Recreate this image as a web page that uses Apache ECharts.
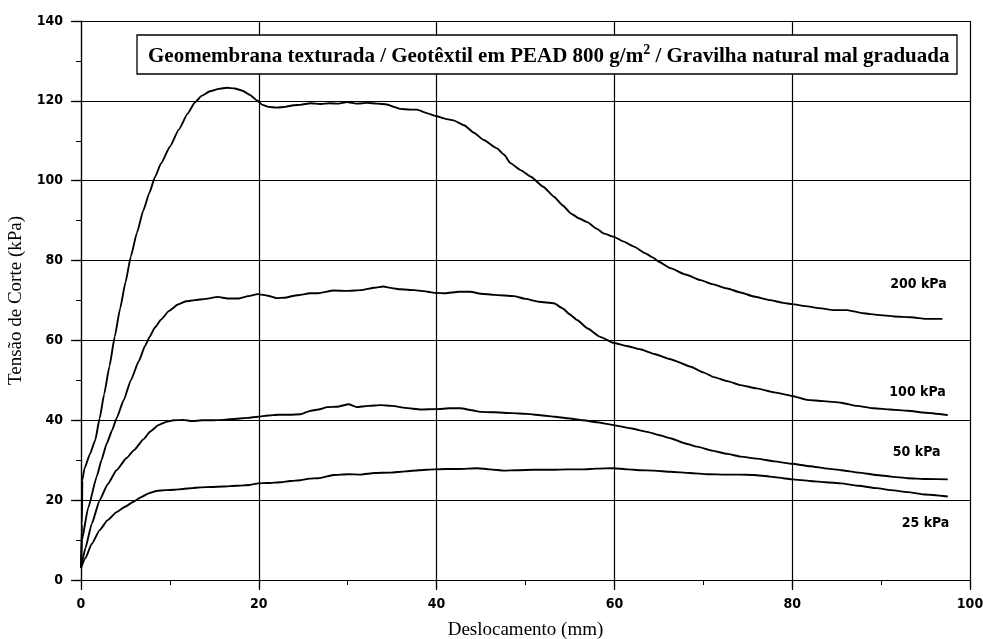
<!DOCTYPE html>
<html>
<head>
<meta charset="utf-8">
<title>Tensão de Corte vs Deslocamento</title>
<script src="https://cdn.jsdelivr.net/npm/echarts@6/dist/echarts.min.js"></script>
<style>
  html, body { margin: 0; padding: 0; background: #fff; }
  #chart { width: 983px; height: 639px; }
</style>
</head>
<body>
<div id="chart"></div>
<script>
// Shear stress (kPa) vs. displacement (mm), one curve per normal stress.
const curve200 = [[0,3],[0.1,14],[0.15,25],[0.4,28],[1.0,31.5],[1.6,35],[2.1,40.5],[2.6,46.5],[3.2,53.5],[3.8,61],[4.4,68],[5.0,74.5],[5.6,81],[6.3,87],[7.0,92.5],[7.7,97],[8.3,100.8],[9.0,104.3],[10,108.5],[11,112.8],[12,116.8],[12.8,119.6],[13.6,121.3],[14.5,122.4],[15.5,123],[16.4,123.3],[17.3,123.1],[18.1,122.6],[19,121.5],[19.8,120.1],[20.4,119],[21.1,118.5],[22,118.3],[23,118.5],[23.9,118.9],[24.7,119],[25.8,119.4],[27,119.2],[28,119.4],[29,119.3],[29.9,119.7],[31,119.3],[32.2,119.5],[33.3,119.3],[34.4,119.1],[35.2,118.5],[35.9,118.0],[37,117.8],[37.8,117.8],[38.8,117],[39.9,116.2],[41,115.5],[41.9,115.1],[43.1,113.9],[44.2,112],[45.3,110.2],[46.8,108.1],[47.6,106.5],[48.3,104.4],[49.5,102.6],[50.6,101],[52,98.5],[53.2,96],[54.2,93.8],[55.1,91.8],[56,90.6],[56.9,89.7],[58,88],[58.8,86.8],[59.9,86],[61,84.8],[62.2,83.5],[63.5,81.8],[64.3,80.8],[65,79.7],[66.3,78.1],[68,76.5],[69.7,75.1],[71,74.1],[72.7,73],[74.2,72],[75.7,71],[77.5,70.1],[79,69.4],[80,69.1],[81.5,68.6],[83,68.1],[84.7,67.6],[86.2,67.6],[88,66.8],[89.6,66.4],[91.5,66],[93.4,65.8],[95,65.4],[96.9,65.4]];

const curve100 = [[0,3],[0.1,10],[0.8,18],[1.77,25.9],[2.3,30],[2.9,34.2],[3.5,37.5],[4.0,40.5],[4.8,45],[5.6,50],[6.5,54.8],[7.2,58.6],[7.7,60.8],[8.3,63.2],[9.0,65.2],[9.9,67.4],[10.9,69.0],[11.8,69.8],[12.8,70.1],[14,70.4],[15.4,70.9],[16.5,70.5],[17.7,70.5],[18.8,71.1],[19.9,71.6],[21,71.2],[22,70.6],[22.9,70.7],[24,71.2],[24.7,71.4],[25.7,71.8],[26.7,71.8],[28.4,72.5],[30,72.4],[31.5,72.6],[33,73.2],[34,73.5],[35,73.1],[35.9,72.8],[37.5,72.6],[39,72.2],[39.9,71.9],[41,71.8],[42.5,72.2],[43.8,72.2],[45,71.7],[46.5,71.4],[48.7,71.1],[50,70.4],[51.5,69.7],[53.2,69.3],[54.2,68],[55,66.5],[55.8,65.1],[57,63],[58.4,60.9],[59.9,59.4],[61.4,58.6],[62.9,57.8],[64.5,56.6],[66.3,55.3],[68.6,53.4],[70,52],[71.2,50.8],[72.7,49.8],[74.2,48.8],[76,48],[78,47],[80,46.1],[81.7,45.1],[83.5,44.8],[85.5,44.4],[87.3,43.6],[89.2,43],[91,42.7],[93,42.4],[95,41.9],[97.5,41.3]];

const curve50 = [[0,3],[0.5,8],[1.2,14],[2.1,20],[3.0,24],[4.0,27.5],[5.1,30.5],[6.0,32.6],[7,35.2],[7.8,37.2],[8.7,38.8],[9.6,39.6],[10.4,40],[11.5,40.1],[12.5,39.8],[13.6,40.0],[14.7,40],[16,40.1],[17.5,40.4],[18.8,40.6],[19.9,40.9],[21,41.2],[22.2,41.4],[23.5,41.4],[24.7,41.5],[25.7,42.3],[26.7,42.7],[27.7,43.3],[28.8,43.4],[30.1,44],[31,43.3],[32.3,43.6],[33.7,43.8],[35,43.6],[36.5,43.1],[38.2,42.7],[40,42.8],[41.5,43],[42.7,43],[44,42.5],[44.9,42.1],[46.5,42],[48.5,41.8],[50.2,41.6],[52,41.2],[53.3,40.9],[54.7,40.5],[56.5,40],[58,39.5],[59.9,38.8],[61.8,38],[63.7,37.1],[65,36.3],[66.3,35.5],[68,34.2],[69.3,33.4],[71,32.4],[72.7,31.6],[74.2,30.9],[76,30.4],[78,29.7],[80,29.1],[82,28.5],[84,27.9],[85.5,27.5],[87.5,26.9],[89.5,26.3],[91.1,25.9],[93,25.5],[95,25.3],[97.5,25.2]];

const curve25 = [[0,3],[0.5,5.5],[1.2,9],[2.1,12.5],[3,15],[4,17],[5,18.4],[5.9,19.6],[6.8,20.8],[7.6,21.7],[8.5,22.3],[9.5,22.5],[10.5,22.6],[11.5,22.8],[12.5,23],[13.4,23.2],[14.7,23.3],[16,23.4],[17.5,23.6],[19,23.8],[19.9,24.2],[21,24.3],[22.5,24.5],[23.5,24.8],[24.7,25],[25.7,25.4],[26.7,25.5],[28.4,26.3],[30,26.5],[31.5,26.4],[33,26.8],[34.8,26.9],[36.5,27.2],[38,27.5],[39.7,27.7],[41,27.8],[42.5,27.8],[44.6,28],[46,27.7],[47.6,27.4],[49,27.5],[51,27.6],[53,27.6],[54.7,27.7],[56.5,27.7],[58,27.9],[59.9,28],[61.5,27.7],[62.9,27.5],[64.5,27.4],[66.3,27.1],[68.5,26.8],[70.5,26.5],[72.5,26.4],[74,26.4],[75.7,26.3],[77.5,25.9],[79,25.5],[80,25.2],[82,24.8],[83.8,24.5],[85.5,24.2],[87.5,23.6],[89.5,23],[91.1,22.5],[93,22],[95,21.4],[97.5,20.9]];

const seriesNames = ['200 kPa', '100 kPa', '50 kPa', '25 kPa'];
const xTicks = [0, 20, 40, 60, 80, 100];
const yTicks = [0, 20, 40, 60, 80, 100, 120, 140];
const titleParts = ['Geomembrana texturada / Geotêxtil em PEAD 800 g/m', '2', ' / Gravilha natural mal graduada'];
const xName = 'Deslocamento (mm)';
const yName = 'Tensão de Corte (kPa)';

const chart = echarts.init(document.getElementById('chart'), null, { renderer: 'canvas' });

const tickFont = '"DejaVu Sans Condensed", "DejaVu Sans", sans-serif';
const serifFont = '"Liberation Serif", "Times New Roman", serif';
const ink = '#000';

// Curve label anchors, in data units (displacement, stress)
const labelAnchors = [[94.2, 74.1], [94.1, 46.9], [94.0, 31.9], [95.0, 14.1]];

const curves = [curve200, curve100, curve50, curve25];

const series = curves.map((data, i) => ({
  name: seriesNames[i],
  type: 'line',
  data: data,
  showSymbol: false,
  symbol: 'none',
  smooth: 0.15,
  smoothMonotone: 'x',
  lineStyle: { color: ink, width: 1.9 },
  z: 5,
  markPoint: {
    symbol: 'circle',
    symbolSize: 0,
    silent: true,
    data: [{ coord: labelAnchors[i] }],
    label: {
      show: true,
      position: 'inside',
      formatter: seriesNames[i],
      color: ink,
      fontFamily: tickFont,
      fontWeight: 'bold',
      fontSize: 14
    }
  }
}));

const axisCommon = {
  type: 'value',
  axisLine: { show: true, lineStyle: { color: ink, width: 1.2 } },
  axisTick: { show: true, length: 10, lineStyle: { color: ink, width: 1.2 } },
  minorTick: { show: true, splitNumber: 2, length: 5, lineStyle: { color: ink, width: 1 } },
  splitLine: { show: true, lineStyle: { color: ink, width: 1.2 } }
};

const option = {
  backgroundColor: '#fff',
  animation: false,
  grid: { left: 81, right: 13, top: 21, bottom: 59, containLabel: false, outerBoundsMode: 'none' },
  xAxis: [
    Object.assign({}, axisCommon, {
      min: xTicks[0], max: xTicks[xTicks.length - 1], interval: 20,
      position: 'bottom',
      name: xName,
      nameLocation: 'middle',
      nameGap: 41,
      nameTextStyle: { fontFamily: serifFont, fontSize: 19, color: ink },
      axisLabel: { margin: 17, fontFamily: tickFont, fontWeight: 'bold', fontSize: 14, color: ink }
    }),
    Object.assign({}, axisCommon, {
      min: xTicks[0], max: xTicks[xTicks.length - 1], interval: 20,
      position: 'top',
      axisLine: { show: false },
      axisTick: { show: true, inside: true, length: 8, lineStyle: { color: ink, width: 1.2 } },
      axisLabel: { show: false },
      splitLine: { show: false }
    })
  ],
  yAxis: [
    Object.assign({}, axisCommon, {
      min: yTicks[0], max: yTicks[yTicks.length - 1], interval: 20,
      position: 'left',
      name: yName,
      nameLocation: 'middle',
      nameGap: 50,
      nameTextStyle: { fontFamily: serifFont, fontSize: 19, color: ink },
      axisLabel: { margin: 18, fontFamily: tickFont, fontWeight: 'bold', fontSize: 14, color: ink }
    }),
    Object.assign({}, axisCommon, {
      min: yTicks[0], max: yTicks[yTicks.length - 1], interval: 20,
      position: 'right',
      axisLine: { show: false },
      axisTick: { show: true, inside: true, length: 8, lineStyle: { color: ink, width: 1.2 } },
      axisLabel: { show: false },
      splitLine: { show: false }
    })
  ],
  series: series,
  graphic: [
    {
      type: 'rect',
      z: 100,
      shape: { x: 137, y: 35, width: 820, height: 39 },
      style: { fill: '#fff', stroke: ink, lineWidth: 1.3 }
    },
    {
      type: 'text',
      z: 101,
      left: 148,
      top: 43,
      style: {
        text: '{a|' + titleParts[0] + '}{s|' + titleParts[1] + '}{a|' + titleParts[2] + '}',
        rich: {
          a: { fontFamily: serifFont, fontWeight: 'bold', fontSize: 21, fill: ink, lineHeight: 24, verticalAlign: 'bottom' },
          s: { fontFamily: serifFont, fontWeight: 'bold', fontSize: 14, fill: ink, lineHeight: 24, verticalAlign: 'top' }
        }
      }
    }
  ]
};

chart.setOption(option);
</script>
</body>
</html>
